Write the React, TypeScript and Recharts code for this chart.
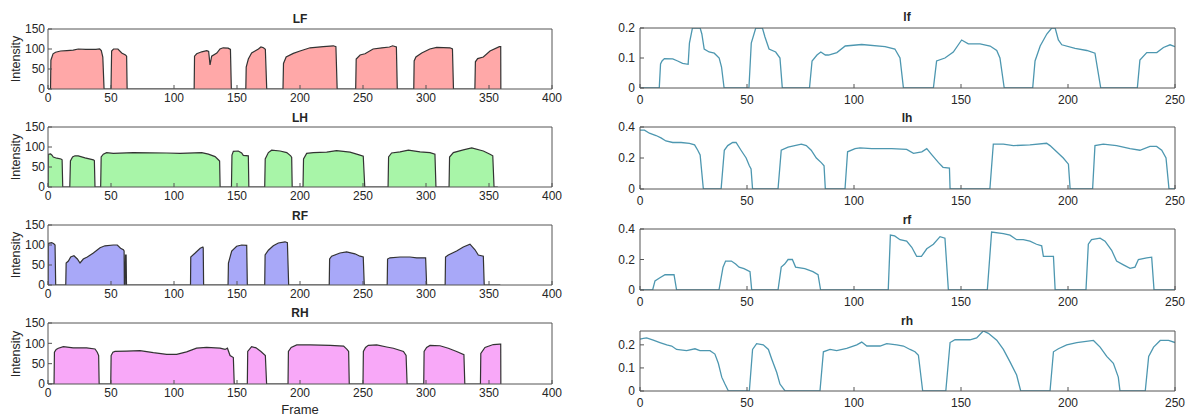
import React from 'react';
import { AreaChart, Area, LineChart, Line, XAxis, YAxis } from 'recharts';

type Pt = [number, number];

// ---------- tick labels ----------
const leftXTicks = [0, 50, 100, 150, 200, 250, 300, 350, 400];
const rightXTicks = [0, 50, 100, 150, 200, 250];
const intensityTicks = [0, 50, 100, 150];
const lfTicks = [0, 0.1, 0.2];
const lhTicks = [0, 0.2, 0.4];
const rfTicks = [0, 0.2, 0.4];
const rhTicks = [0, 0.1, 0.2];

// ---------- left column: intensity per frame ----------
const LF: Pt[] = [
  [0, 0], [2, 0], [2.3, 72], [4, 88], [6, 92], [10, 95], [15, 96], [20, 97], [24, 100], [30, 99], [38, 99], [41, 100], [42.3, 96], [43.5, 80], [44.5, 0],
  [50, 0], [50.5, 95], [52, 100], [55.5, 100], [58.5, 90], [61.5, 85], [62.4, 82], [62.8, 0],
  [116, 0], [116.3, 82], [118, 88], [122, 93], [126, 96], [127.5, 94], [128.6, 60], [129.9, 82], [134, 90], [136.5, 100], [139, 103], [143, 102], [144.8, 99], [145.5, 0],
  [157, 0], [157.3, 55], [159, 75], [161.6, 90], [164.3, 95], [167, 100], [169, 105], [171, 103], [172.5, 99], [173.6, 0],
  [186.5, 0], [186.9, 64], [189, 80], [194.7, 89], [200, 95], [208, 103], [218.5, 106], [226.5, 108], [228.5, 106], [229.5, 0],
  [244.2, 0], [244.6, 75], [247.7, 85], [251.6, 88], [258, 100], [265, 103], [271, 105], [273.5, 108], [276.5, 105], [277.2, 0],
  [290.3, 0], [290.6, 70], [292, 80], [296.6, 90], [303, 100], [308.5, 104], [319, 103], [321, 100], [321.8, 0],
  [338.8, 0], [339.2, 68], [341, 76], [345.5, 80], [350.8, 95], [358.2, 106], [359.3, 106], [359.4, 0],
];

const LH: Pt[] = [
  [0, 0], [0.2, 82], [2, 83], [3, 80], [4.2, 75], [7, 72], [10.3, 70], [11.2, 68], [11.7, 0],
  [17.3, 0], [17.8, 65], [19.5, 75], [21.4, 78], [24, 78], [29.4, 73], [36, 68], [36.8, 66], [37.3, 0],
  [41.8, 0], [42.2, 75], [43.9, 82], [46.5, 86], [51.8, 84], [67.7, 86], [94.2, 85], [104.8, 84], [122, 86], [127.3, 82], [132.6, 76], [135.2, 68], [136.2, 65], [136.6, 0],
  [145.6, 0], [146, 80], [147.1, 89], [151, 90], [153.7, 85], [155, 79], [159, 78], [159.4, 0],
  [172, 0], [172.4, 70], [174.9, 86], [177.5, 92], [184.2, 90], [189.5, 86], [192.6, 78], [193.4, 74], [193.8, 0],
  [202.4, 0], [202.8, 70], [205.3, 84], [210.6, 86], [221.2, 87], [229, 91], [239.7, 87], [246.3, 81], [250.2, 77], [251.4, 0],
  [269.9, 0], [270.3, 75], [272.7, 85], [279.4, 88], [286, 92], [295.3, 88], [303.2, 86], [307.1, 82], [307.9, 0],
  [318.3, 0], [318.7, 75], [321.7, 86], [329.6, 93], [336.3, 98], [345.5, 90], [350.8, 82], [353, 78], [354, 0],
  [357, 0],
];

const RF: Pt[] = [
  [0, 0], [0.2, 104], [2.9, 106], [4.6, 103], [5.6, 100], [6.1, 0],
  [14.1, 0], [14.4, 55], [16.2, 60], [18, 70], [20.6, 73], [23.3, 65], [25.4, 55], [28, 65], [31.2, 70], [36, 80], [41.3, 93], [45.2, 98], [51.8, 100], [55, 100], [57.6, 92], [59.8, 88], [60.4, 85], [60.6, 0],
  [61.2, 0], [61.5, 75], [62, 75], [62.3, 0],
  [113.1, 0], [113.3, 70], [116.8, 80], [120.8, 92], [122.9, 95], [123.2, 93], [123.5, 0],
  [142.9, 0], [143.2, 55], [145.8, 85], [149.7, 97], [153.7, 100], [157.7, 99], [158.2, 0],
  [172, 0], [172.3, 75], [174.9, 87], [178.8, 98], [182.8, 105], [188.1, 108], [190, 106], [191, 0],
  [223.2, 0], [223.5, 65], [225.1, 72], [231.7, 80], [237, 83], [243.6, 78], [247.6, 72], [250.2, 70], [251, 0],
  [269.2, 0], [269.5, 65], [271.4, 68], [279.4, 70], [287.3, 70], [292.6, 68], [299.7, 68], [300.5, 0],
  [315.2, 0], [315.5, 70], [317.7, 75], [324.3, 85], [329.6, 95], [334.9, 102], [338.9, 88], [341.5, 75], [345.5, 72], [346.2, 0],
  [359, 0],
];

const RH: Pt[] = [
  [0, 0], [4.8, 0], [5.1, 78], [6.5, 85], [8.2, 88], [12.2, 92], [20, 89], [30.6, 89], [37.3, 86], [39.1, 78], [40.2, 70], [40.6, 0],
  [49.8, 0], [50.1, 70], [51.5, 78], [53.2, 80], [62.4, 81], [73, 82], [83.6, 77], [94.2, 73], [102.1, 73], [110, 79], [117.9, 88], [125.9, 90], [136.5, 88], [140.5, 85], [142.4, 88], [144.5, 70], [147.1, 65], [147.8, 0],
  [158.2, 0], [158.5, 80], [161.6, 92], [165.1, 89], [169, 80], [172.5, 70], [173.5, 0],
  [190.5, 0], [190.8, 80], [193, 90], [197.4, 96], [208.2, 96], [224, 95], [234.6, 93], [237.3, 85], [238.6, 80], [239.1, 0],
  [250, 0], [250.3, 80], [252, 90], [254.2, 95], [260.9, 96], [268.8, 91], [274.1, 88], [282.1, 80], [284.2, 70], [285, 0],
  [298.2, 0], [298.5, 80], [300.5, 90], [303.2, 95], [311.1, 94], [317.7, 88], [324.3, 80], [330.1, 72], [330.8, 0],
  [343.2, 0], [343.5, 75], [346.8, 90], [353.4, 97], [358.7, 98], [359.3, 98], [359.4, 0],
];

// ---------- right column ----------
const lf: Pt[] = [
  [0, 0], [9, 0], [9.6, 0.08], [10.3, 0.09], [11.4, 0.098], [15.3, 0.097], [17.6, 0.09], [19.9, 0.082], [22.5, 0.079], [23.1, 0.15], [24.5, 0.2], [28.1, 0.2], [28.9, 0.18], [30, 0.13], [32.3, 0.12], [34.7, 0.116], [37, 0.1], [38.1, 0.07], [39.3, 0],
  [50.9, 0], [52, 0.15], [54.1, 0.2], [57.2, 0.2], [58.4, 0.17], [60.3, 0.13], [63.4, 0.12], [65.4, 0.1], [66.5, 0],
  [79.2, 0], [80.4, 0.09], [82.7, 0.11], [84.5, 0.12], [86.6, 0.11], [88.1, 0.11], [92, 0.118], [95.9, 0.14], [103.6, 0.145], [114.5, 0.138], [119.1, 0.13], [121.5, 0.1], [123.1, 0],
  [137.1, 0], [138.6, 0.09], [142.5, 0.1], [146.4, 0.12], [150.3, 0.16], [153.4, 0.147], [158.9, 0.147], [163.6, 0.14], [166.7, 0.125], [168.2, 0.1], [170.2, 0],
  [183.5, 0], [184.6, 0.09], [187, 0.14], [190.1, 0.18], [192.4, 0.2], [194, 0.2], [195.5, 0.16], [197.1, 0.144], [203.3, 0.132], [208.8, 0.125], [212.6, 0.116], [215.3, 0],
  [232.4, 0], [233.6, 0.093], [236.8, 0.118], [241.5, 0.118], [244.6, 0.135], [247.7, 0.144], [250, 0.138],
];

const lh: Pt[] = [
  [0, 0.38], [2.1, 0.38], [4.4, 0.36], [7.5, 0.345], [9.8, 0.33], [12.1, 0.31], [15.3, 0.3], [19.2, 0.3], [23.1, 0.295], [25.5, 0.285], [27, 0.25], [28.1, 0.22], [29.6, 0],
  [37.9, 0], [39.4, 0.25], [41, 0.28], [43.3, 0.3], [44.9, 0.3], [47.2, 0.25], [49.6, 0.2], [51.1, 0.15], [51.9, 0.13], [52.6, 0],
  [64.5, 0], [66, 0.25], [69.2, 0.27], [72.3, 0.28], [75.4, 0.29], [77.7, 0.28], [80, 0.25], [82.4, 0.2], [84.7, 0.17], [86, 0.15], [86.6, 0],
  [95.8, 0], [97, 0.24], [100.5, 0.26], [102.8, 0.265], [108.3, 0.26], [117.6, 0.26], [124.6, 0.255], [127.8, 0.23], [131.7, 0.24], [134, 0.26], [136.4, 0.22], [139.5, 0.17], [141.6, 0.14], [144.6, 0.135], [144.9, 0],
  [163.5, 0], [165.1, 0.29], [169.8, 0.29], [174.5, 0.28], [182.2, 0.285], [190, 0.295], [191.6, 0.28], [194.7, 0.24], [197.8, 0.2], [200.2, 0.16], [201, 0],
  [211.5, 0], [212.6, 0.28], [216.5, 0.29], [222.7, 0.28], [229, 0.26], [233.6, 0.25], [238.3, 0.275], [241.4, 0.275], [243.8, 0.25], [245.8, 0.2], [247.2, 0], [250, 0],
];

const rf: Pt[] = [
  [0, 0], [5.9, 0], [7, 0.06], [9.3, 0.08], [11.7, 0.1], [15.9, 0.1], [17.1, 0],
  [36.9, 0], [38.8, 0.15], [40, 0.19], [42.7, 0.19], [44.7, 0.17], [46.3, 0.15], [48.6, 0.14], [51.4, 0.12], [52.2, 0],
  [64.5, 0], [66, 0.15], [67.6, 0.17], [69.2, 0.2], [71.2, 0.2], [72.7, 0.15], [77, 0.14], [80.8, 0.12], [83.2, 0.1], [84.4, 0],
  [116, 0], [117, 0.36], [119, 0.355], [121.5, 0.33], [124.6, 0.32], [127, 0.28], [129.3, 0.22], [131.5, 0.22], [134, 0.27], [137.1, 0.3], [140.2, 0.35], [142.5, 0.34], [144.1, 0],
  [162.3, 0], [164.3, 0.38], [169.8, 0.37], [172.9, 0.36], [176, 0.33], [179.1, 0.33], [182.2, 0.32], [185.3, 0.3], [187.7, 0.29], [188.5, 0.22], [193.2, 0.22], [194, 0],
  [208.4, 0], [209.5, 0.3], [211, 0.33], [215, 0.34], [217.3, 0.32], [220.4, 0.26], [222.7, 0.19], [225.9, 0.165], [229, 0.142], [231.3, 0.15], [232.9, 0.2], [236.8, 0.21], [239.1, 0.215], [240.2, 0], [250, 0],
];

const rh: Pt[] = [
  [0, 0.225], [1.6, 0.228], [3.1, 0.23], [6.2, 0.22], [9.3, 0.21], [12.5, 0.2], [14.8, 0.195], [17.1, 0.18], [21.8, 0.175], [25.7, 0.183], [28, 0.175], [32.7, 0.175], [35, 0.16], [36.6, 0.12], [38.2, 0.06], [39.7, 0.03], [41.3, 0],
  [51.1, 0], [52.6, 0.18], [54.5, 0.205], [57.6, 0.2], [60, 0.18], [61.5, 0.14], [63.9, 0.08], [65.4, 0.03], [67.8, 0],
  [84.1, 0], [85.7, 0.17], [88.8, 0.18], [91.9, 0.175], [96.6, 0.185], [101.3, 0.2], [103.6, 0.212], [106, 0.195], [112.2, 0.195], [115.3, 0.205], [120, 0.2], [123.1, 0.195], [126.2, 0.18], [128.5, 0.17], [130.1, 0.155], [132.1, 0],
  [142.9, 0], [144.9, 0.21], [147.2, 0.222], [154.2, 0.222], [157.3, 0.23], [160.4, 0.26], [162.8, 0.25], [166.7, 0.22], [169.8, 0.18], [172.9, 0.126], [176, 0.069], [177.9, 0],
  [191.6, 0], [193.2, 0.17], [195.5, 0.183], [199.4, 0.2], [204.1, 0.21], [211.9, 0.219], [215, 0.19], [218.1, 0.15], [221.2, 0.12], [223.5, 0.06], [224.3, 0],
  [236.1, 0], [237.7, 0.15], [240, 0.19], [243.1, 0.219], [247, 0.219], [250, 0.21],
];

// ---------- styling ----------
const FONT = '"Liberation Sans", Arial, Helvetica, sans-serif';
const AX = '#555555';
const TXT = '#262626';
const LINE = '#4d97b0';

type PanelProps = {
  pts: Pt[];
  left: number;
  top: number;
  plotW: number;
  plotH: number;
  yW: number;
  xDomain: [number, number];
  xTicks: number[];
  yDomain: [number, number];
  yTicks: number[];
  fill?: string;
  xMargin: number;
  yMargin: number;
};

function Panel(p: PanelProps) {
  const MT = 10;
  const TOPH = 1;
  const RW = 1;
  const MR = 14;
  const XH = 24;
  const data = p.pts.map(([x, y]) => ({ x, y }));
  const width = p.yW + p.plotW + RW + MR;
  const height = MT + TOPH + p.plotH + XH;
  const tickStyle = { fill: TXT, fontSize: 12, fontFamily: FONT };
  const axes = [
    <XAxis key="xb" xAxisId="b" type="number" dataKey="x" domain={p.xDomain} ticks={p.xTicks} allowDataOverflow
      orientation="bottom" height={XH} tickSize={-4} tickMargin={p.xMargin} interval={0}
      axisLine={{ stroke: AX }} tickLine={{ stroke: AX }} tick={tickStyle} />,
    <XAxis key="xt" xAxisId="t" type="number" dataKey="x" domain={p.xDomain} ticks={p.xTicks} allowDataOverflow
      orientation="top" height={TOPH} tickSize={-4} tick={false} interval={0}
      axisLine={{ stroke: AX }} tickLine={{ stroke: AX }} />,
    <YAxis key="yl" yAxisId="l" type="number" domain={p.yDomain} ticks={p.yTicks} allowDataOverflow
      orientation="left" width={p.yW} tickSize={-4} tickMargin={p.yMargin} interval={0}
      axisLine={{ stroke: AX }} tickLine={{ stroke: AX }} tick={tickStyle}
      tickFormatter={(v: number) => String(v)} />,
    <YAxis key="yr" yAxisId="r" type="number" domain={p.yDomain} ticks={p.yTicks} allowDataOverflow
      orientation="right" width={RW} tickSize={-4} tick={false} interval={0}
      axisLine={{ stroke: AX }} tickLine={{ stroke: AX }} />,
  ];
  const style: React.CSSProperties = { position: 'absolute', left: p.left - p.yW, top: p.top - MT - TOPH };
  const margin = { top: MT, right: MR, bottom: 0, left: 0 };
  if (p.fill) {
    return (
      <div style={style}>
        <AreaChart width={width} height={height} data={data} margin={margin}>
          {axes}
          <Area xAxisId="b" yAxisId="l" type="linear" dataKey="y" stroke="#333333" strokeWidth={1.2}
            fill={p.fill} fillOpacity={1} isAnimationActive={false} dot={false} activeDot={false} />
        </AreaChart>
      </div>
    );
  }
  return (
    <div style={style}>
      <LineChart width={width} height={height} data={data} margin={margin}>
        {axes}
        <Line xAxisId="b" yAxisId="l" type="linear" dataKey="y" stroke={LINE} strokeWidth={1.3}
          dot={false} activeDot={false} isAnimationActive={false} />
      </LineChart>
    </div>
  );
}

function Title({ text, x, y, size = 12, bold = true }: { text: string; x: number; y: number; size?: number; bold?: boolean }) {
  return (
    <div style={{ position: 'absolute', left: x, top: y, transform: 'translate(-50%, -50%)', fontSize: size,
      fontWeight: bold ? 'bold' : 'normal', color: TXT, fontFamily: FONT, whiteSpace: 'nowrap', lineHeight: 1 }}>
      {text}
    </div>
  );
}

function YLabel({ text, x, y }: { text: string; x: number; y: number }) {
  return (
    <div style={{ position: 'absolute', left: x, top: y, transform: 'translate(-50%, -50%) rotate(-90deg)', fontSize: 12.5,
      color: TXT, fontFamily: FONT, whiteSpace: 'nowrap', lineHeight: 1 }}>
      {text}
    </div>
  );
}

const leftPanels = [
  { name: 'LF', pts: LF, top: 29, h: 60, fill: '#ffa8a8', ty: 19 },
  { name: 'LH', pts: LH, top: 127, h: 60, fill: '#a8f5a8', ty: 118 },
  { name: 'RF', pts: RF, top: 225, h: 60, fill: '#a8a8f8', ty: 216 },
  { name: 'RH', pts: RH, top: 323, h: 61, fill: '#f8a8f8', ty: 313 },
];

const rightPanels = [
  { name: 'lf', pts: lf, top: 28, h: 60, dom: [0, 0.2] as [number, number], ticks: lfTicks, ty: 17 },
  { name: 'lh', pts: lh, top: 127, h: 62, dom: [0, 0.4] as [number, number], ticks: lhTicks, ty: 118 },
  { name: 'rf', pts: rf, top: 229, h: 61, dom: [0, 0.4] as [number, number], ticks: rfTicks, ty: 220 },
  { name: 'rh', pts: rh, top: 331, h: 60, dom: [0, 0.26] as [number, number], ticks: rhTicks, ty: 321 },
];

export default function App() {
  return (
    <div style={{ position: 'absolute', left: 0, top: 0, width: 1197, height: 417, background: '#ffffff', overflow: 'hidden', fontFamily: FONT }}>
      {leftPanels.map((lp) => (
        <React.Fragment key={lp.name}>
          <Panel pts={lp.pts} left={48} top={lp.top} plotW={504} plotH={lp.h} yW={48}
            xDomain={[0, 400]} xTicks={leftXTicks} yDomain={[0, 150]} yTicks={intensityTicks}
            fill={lp.fill} xMargin={8} yMargin={7} />
          <Title text={lp.name} x={300} y={lp.ty} />
          <YLabel text="Intensity" x={16} y={lp.top + lp.h / 2} />
        </React.Fragment>
      ))}
      <Title text="Frame" x={300} y={409} size={13} bold={false} />
      {rightPanels.map((rp) => (
        <React.Fragment key={rp.name}>
          <Panel pts={rp.pts} left={640} top={rp.top} plotW={535} plotH={rp.h} yW={40}
            xDomain={[0, 250]} xTicks={rightXTicks} yDomain={rp.dom} yTicks={rp.ticks}
            xMargin={11} yMargin={9} />
          <Title text={rp.name} x={907} y={rp.ty} />
        </React.Fragment>
      ))}
    </div>
  );
}
